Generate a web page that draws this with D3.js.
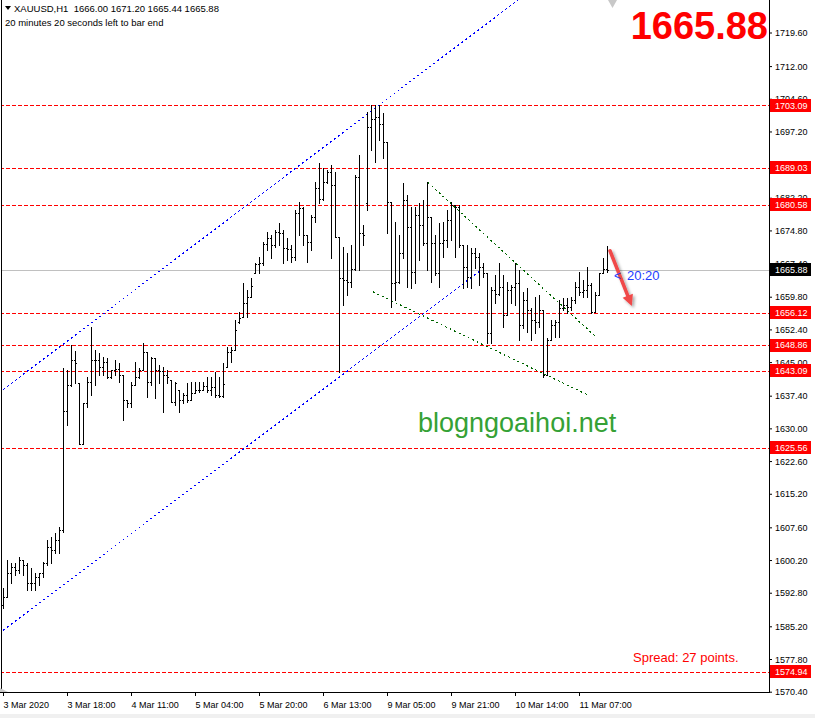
<!DOCTYPE html>
<html>
<head>
<meta charset="utf-8">
<script src="https://cdn.jsdelivr.net/npm/d3@7"></script>
<style>
  html, body { margin: 0; padding: 0; background: #ffffff; }
  svg { display: block; }
  text { font-family: "Liberation Sans", Arial, sans-serif; }
</style>
</head>
<body>
<script>
// ---------------- DATA ----------------
const symbolHeader = "XAUUSD,H1  1666.00 1671.20 1665.44 1665.88";
const timerText = "20 minutes 20 seconds left to bar end";
const bigPrice = "1665.88";
const spreadText = "Spread: 27 points.";
const watermark = "blogngoaihoi.net";
const countdown = "20:20";

const opens = [1590.0,1591.8,1597.3,1598.6,1597.9,1600.2,1599.1,1595.0,1595.0,1596.4,1597.3,1599.5,1603.1,1602.4,1604.7,1607.0,
1633.9,1639.8,1645.5,1640.3,1626.5,1635.7,1640.5,1645.5,1645.5,1643.9,1645.0,1641.6,1643.2,1643.4,1642.1,1636.4,
1635.7,1639.8,1641.6,1643.2,1647.3,1640.5,1645.9,1643.2,1643.0,1642.1,1640.9,1636.0,1638.7,1636.4,1637.6,1636.4,
1638.0,1638.7,1638.7,1639.6,1638.7,1639.3,1637.6,1637.3,1644.0,1647.3,1647.7,1654.0,1655.2,1658.4,1659.7,1665.2,
1667.2,1667.4,1671.7,1673.1,1671.5,1674.5,1674.2,1670.8,1670.6,1668.8,1678.8,1679.9,1673.8,1672.2,1677.8,1684.4,
1681.9,1685.8,1688.0,1685.0,1673.3,1664.0,1663.6,1663.1,1666.1,1686.9,1674.2,1681.0,1698.2,1700.0,1700.5,1699.0,
1694.8,1681.2,1662.9,1663.1,1669.7,1681.7,1675.6,1665.4,1678.3,1676.0,1671.9,1677.8,1671.9,1665.2,1671.9,1672.6,
1677.2,1680.6,1680.1,1671.5,1666.5,1664.3,1669.7,1668.8,1666.5,1665.2,1651.6,1661.3,1660.5,1662.0,1655.7,1661.3,
1662.0,1662.9,1653.4,1659.0,1656.8,1654.5,1654.1,1656.8,1642.1,1650.0,1653.4,1654.1,1657.2,1658.0,1657.5,1659.0,
1662.0,1660.9,1661.3,1662.5,1656.3,1660.2,1665.2,1666.00];

const highs = [1593.9,1600.2,1599.5,1599.5,1600.9,1600.2,1599.5,1598.4,1597.3,1597.3,1599.8,1604.7,1605.4,1606.3,1607.7,1643.7,
1643.2,1648.9,1647.5,1640.3,1635.7,1641.6,1652.9,1647.7,1647.1,1646.2,1645.9,1643.2,1645.5,1644.8,1642.1,1636.4,
1640.5,1645.0,1643.7,1649.3,1647.3,1646.2,1645.9,1644.3,1643.9,1643.2,1640.9,1640.5,1638.7,1638.0,1640.3,1640.5,
1640.5,1640.5,1640.5,1641.6,1641.6,1642.8,1641.6,1644.8,1648.4,1648.4,1654.5,1656.3,1662.9,1661.3,1664.0,1667.4,
1668.8,1672.2,1674.5,1673.8,1674.9,1676.5,1674.9,1673.1,1671.5,1679.4,1681.2,1680.1,1673.8,1678.3,1685.8,1690.1,
1688.9,1688.5,1689.6,1688.0,1673.3,1671.1,1669.7,1671.5,1687.4,1691.9,1676.0,1701.6,1703.2,1703.2,1703.2,1701.4,
1694.8,1681.2,1676.7,1673.8,1685.5,1682.8,1680.1,1680.1,1681.0,1681.7,1685.8,1677.8,1673.8,1676.5,1676.7,1679.4,
1681.2,1680.6,1680.6,1671.5,1671.5,1670.8,1670.8,1669.7,1667.4,1665.2,1662.0,1664.7,1667.4,1664.7,1663.1,1662.4,
1667.4,1665.8,1660.9,1661.8,1657.2,1659.7,1660.2,1656.8,1650.5,1654.5,1654.5,1659.0,1659.5,1659.5,1659.7,1663.1,
1665.4,1663.6,1666.5,1662.9,1660.9,1665.2,1668.6,1671.20];

const lows = [1589.3,1591.8,1595.0,1596.8,1597.3,1596.8,1593.4,1593.4,1593.4,1594.6,1596.4,1599.1,1599.5,1601.8,1601.8,1606.5,
1630.8,1639.5,1640.3,1626.5,1626.5,1634.8,1637.6,1639.8,1642.1,1642.1,1641.4,1641.4,1642.1,1640.5,1631.9,1634.8,
1634.8,1639.8,1641.4,1643.2,1637.1,1639.8,1636.9,1640.3,1633.7,1640.3,1636.0,1635.3,1633.7,1635.7,1636.0,1636.4,
1638.0,1638.2,1638.7,1638.2,1637.6,1637.1,1637.1,1637.1,1643.9,1645.0,1647.7,1653.9,1655.2,1655.2,1659.7,1665.2,
1665.2,1667.0,1670.4,1668.6,1671.1,1671.5,1667.4,1668.1,1667.6,1668.1,1673.8,1671.5,1667.6,1670.4,1676.7,1681.0,
1681.7,1685.5,1668.6,1673.3,1642.8,1658.0,1660.2,1662.0,1665.8,1665.8,1671.5,1679.4,1693.0,1690.3,1695.3,1691.2,
1674.2,1657.5,1659.0,1662.9,1668.6,1662.0,1661.8,1662.9,1668.1,1671.5,1665.8,1663.1,1664.7,1662.0,1668.8,1671.1,
1672.6,1668.8,1671.1,1661.8,1662.0,1661.8,1666.3,1662.4,1664.3,1649.3,1649.3,1658.4,1660.2,1652.9,1655.7,1658.4,
1658.0,1650.0,1652.7,1651.8,1650.0,1651.6,1652.9,1641.6,1642.1,1650.0,1650.7,1650.7,1656.8,1656.1,1656.8,1658.4,
1660.2,1659.7,1659.7,1656.1,1656.3,1660.2,1665.2,1665.44];

const closes = [1591.8,1597.3,1598.6,1597.9,1600.2,1599.1,1595.0,1595.0,1596.4,1597.3,1599.5,1603.1,1602.4,1604.7,1607.0,1633.9,
1639.8,1645.5,1644.8,1626.5,1635.7,1640.5,1645.5,1645.5,1643.9,1645.0,1641.6,1643.2,1643.4,1642.1,1636.4,1635.7,
1639.8,1641.6,1643.2,1647.3,1640.5,1645.9,1643.2,1643.0,1642.1,1641.6,1636.0,1640.3,1636.4,1637.6,1636.4,1638.0,
1638.7,1638.7,1639.6,1638.7,1639.3,1637.6,1637.3,1640.0,1647.3,1647.7,1652.3,1655.0,1658.4,1659.7,1662.2,1667.2,
1667.4,1671.7,1673.1,1671.5,1674.5,1674.2,1670.8,1670.6,1668.8,1678.8,1679.9,1673.8,1672.2,1677.8,1684.4,1681.9,
1685.8,1688.0,1685.0,1673.3,1664.0,1663.6,1663.1,1666.1,1686.9,1674.2,1673.8,1698.2,1700.0,1700.5,1699.0,1694.8,
1681.2,1662.9,1663.1,1669.7,1681.7,1675.6,1665.4,1678.3,1676.0,1671.9,1677.8,1671.9,1665.2,1671.9,1672.6,1677.2,
1680.6,1680.1,1671.5,1666.5,1664.3,1669.7,1668.8,1666.5,1665.2,1651.6,1661.3,1660.5,1662.0,1655.7,1661.3,1662.0,
1662.9,1653.4,1659.0,1656.8,1654.5,1654.1,1656.8,1642.1,1650.0,1653.4,1654.1,1657.2,1658.0,1657.5,1659.0,1662.0,
1660.9,1661.3,1662.5,1656.3,1660.2,1665.2,1666.0,1665.88];

const priceTicks = [1719.60,1712.00,1704.60,1697.20,1689.80,1682.20,1674.80,1667.40,1659.80,1652.40,1645.00,
  1637.40,1630.00,1622.60,1615.20,1607.60,1600.20,1592.80,1585.20,1577.80,1570.40];
const timeTickIndex = [0,16,32,48,64,80,96,112,128,144];
const timeTickLabels = ["3 Mar 2020","3 Mar 18:00","4 Mar 11:00","5 Mar 04:00","5 Mar 20:00",
  "6 Mar 13:00","9 Mar 05:00","9 Mar 21:00","10 Mar 14:00","11 Mar 07:00"];
const levelPrices = [1703.09,1689.03,1680.58,1656.12,1648.86,1643.09,1625.56,1574.94];
const currentPrice = 1665.88;

// trend lines: [barIndex, price] pairs
const blueUpper = [[-1, 1638.07], [130, 1727.8]];
const blueLower = [[-1, 1583.62], [119, 1665.44]];
const greenUpper = [[106.2, 1685.7], [148.6, 1650.4]];
const greenLower = [[92.5, 1660.9], [146.25, 1637.55]];
const arrowPts = [[151.75, 1670.2], [157.2, 1657.7]];

// ---------------- LAYOUT ----------------
const W = 815, H = 718;
const plotRight = 769, plotBottom = 692;

const x = d3.scaleLinear().domain([0, 151]).range([3, 607]);
const y = d3.scaleLinear().domain([1570.4, 1719.6]).range([691.7, 32.5]);

const svg = d3.select("body").append("svg").attr("width", W).attr("height", H);
const defs = svg.append("defs");
defs.append("clipPath").attr("id", "plotClip").append("rect")
  .attr("x", 2).attr("y", 0).attr("width", plotRight - 2).attr("height", plotBottom);
const f = defs.append("filter").attr("id", "shadow").attr("x", "-50%").attr("y", "-50%").attr("width", "200%").attr("height", "200%");
f.append("feDropShadow").attr("dx", 2).attr("dy", 2).attr("stdDeviation", 1.6)
  .attr("flood-color", "#000").attr("flood-opacity", 0.35);

svg.append("rect").attr("width", W).attr("height", H).attr("fill", "#ffffff");
svg.append("rect").attr("x", 0).attr("y", 714).attr("width", W).attr("height", 4).attr("fill", "#f0f0f0");

const plot = svg.append("g").attr("clip-path", "url(#plotClip)");

// level lines
plot.selectAll("line.level").data(levelPrices).join("line")
  .attr("class", "level")
  .attr("x1", 0).attr("x2", plotRight)
  .attr("y1", d => Math.round(y(d)) + 0.5).attr("y2", d => Math.round(y(d)) + 0.5)
  .attr("stroke", "#ff0000").attr("stroke-width", 1).attr("stroke-dasharray", "4,2")
  .attr("shape-rendering", "crispEdges");

// current price line
plot.append("line")
  .attr("x1", 0).attr("x2", plotRight)
  .attr("y1", Math.round(y(currentPrice)) + 0.5).attr("y2", Math.round(y(currentPrice)) + 0.5)
  .attr("stroke", "#c0c0c0").attr("stroke-width", 1).attr("shape-rendering", "crispEdges");

// trend lines
const trend = (pts, color) => plot.append("line")
  .attr("x1", x(pts[0][0])).attr("y1", y(pts[0][1]))
  .attr("x2", x(pts[1][0])).attr("y2", y(pts[1][1]))
  .attr("stroke", color).attr("stroke-width", 1.1).attr("stroke-dasharray", "2,3")
  .attr("shape-rendering", "crispEdges");
trend(blueUpper, "#0000ff");
trend(blueLower, "#0000ff");
trend(greenUpper, "#006400");
trend(greenLower, "#006400");

// OHLC bars
const bars = plot.append("g").attr("fill", "#000000").attr("shape-rendering", "crispEdges");
closes.forEach((c, i) => {
  const col = Math.round(x(i));
  const yh = Math.round(y(highs[i])), yl = Math.round(y(lows[i]));
  bars.append("rect").attr("x", col).attr("y", yh).attr("width", 1).attr("height", Math.max(1, yl - yh + 1));
  bars.append("rect").attr("x", col - 1).attr("y", Math.round(y(opens[i]))).attr("width", 1).attr("height", 1);
  bars.append("rect").attr("x", col + 1).attr("y", Math.round(y(c))).attr("width", 1).attr("height", 1);
});

// red arrow annotation
(function () {
  const p1 = [x(arrowPts[0][0]), y(arrowPts[0][1])];
  const p2 = [x(arrowPts[1][0]), y(arrowPts[1][1])];
  const dx = p2[0] - p1[0], dy = p2[1] - p1[1];
  const len = Math.hypot(dx, dy), ux = dx / len, uy = dy / len;
  const hl = 11, hw = 5.5;
  const bx = p2[0] - ux * hl, by = p2[1] - uy * hl;
  const g = svg.append("g").attr("filter", "url(#shadow)");
  g.append("line").attr("x1", p1[0]).attr("y1", p1[1]).attr("x2", bx + ux).attr("y2", by + uy)
    .attr("stroke", "#f04848").attr("stroke-width", 3.5).attr("stroke-linecap", "round");
  g.append("path").attr("d", `M${p2[0]},${p2[1]} L${bx - uy * hw},${by + ux * hw} L${bx + uy * hw},${by - ux * hw} Z`)
    .attr("fill", "#f04848");
})();

// frame
svg.append("line").attr("x1", 1.5).attr("x2", 1.5).attr("y1", 0).attr("y2", plotBottom + 0.5).attr("stroke", "#000");
svg.append("line").attr("x1", 0).attr("x2", plotRight + 1).attr("y1", plotBottom + 0.5).attr("y2", plotBottom + 0.5).attr("stroke", "#000");
svg.append("line").attr("x1", plotRight + 0.5).attr("x2", plotRight + 0.5).attr("y1", 0).attr("y2", plotBottom + 1).attr("stroke", "#000");

// small gray markers
svg.append("path").attr("d", "M0,688 L8,692 L0,692 Z").attr("fill", "#c8c8c8");
svg.append("path").attr("d", "M608,0 L617,0 L612.5,8 Z").attr("fill", "#c8c8c8");

// right price axis
const yAxis = d3.axisRight(y).tickValues(priceTicks).tickFormat(d3.format(".2f")).tickSize(3).tickSizeOuter(0).tickPadding(3);
const ya = svg.append("g").attr("transform", `translate(${plotRight},0)`).call(yAxis);
ya.select(".domain").remove();
ya.selectAll("text").attr("font-size", 9).attr("fill", "#000").attr("font-family", "Liberation Sans, Arial, sans-serif").attr("dy", "0.34em");

// bottom time axis
const xAxis = d3.axisBottom(x).tickValues(timeTickIndex).tickFormat((d, i) => timeTickLabels[i]).tickSize(4).tickSizeOuter(0);
const xa = svg.append("g").attr("transform", `translate(0,${plotBottom})`).call(xAxis);
xa.select(".domain").remove();
xa.selectAll("text").attr("font-size", 9).attr("fill", "#000").attr("text-anchor", "start")
  .attr("x", 0).attr("y", 16).attr("dy", 0).attr("font-family", "Liberation Sans, Arial, sans-serif");

// price label boxes
const boxG = svg.append("g");
levelPrices.forEach(p => {
  const yc = y(p);
  boxG.append("rect").attr("x", plotRight + 1).attr("y", Math.round(yc - 6.5)).attr("width", 41).attr("height", 13).attr("fill", "#ff0000");
  boxG.append("text").attr("x", plotRight + 6).attr("y", yc + 3.3).attr("font-size", 9).attr("fill", "#ffffff").text(p.toFixed(2));
});
{
  const yc = y(currentPrice);
  boxG.append("rect").attr("x", plotRight + 1).attr("y", Math.round(yc - 6.5)).attr("width", 41).attr("height", 13).attr("fill", "#000000");
  boxG.append("text").attr("x", plotRight + 6).attr("y", yc + 3.3).attr("font-size", 9).attr("fill", "#ffffff").text(currentPrice.toFixed(2));
}

// header
svg.append("path").attr("d", "M5,6 L11,6 L8,10 Z").attr("fill", "#000");
svg.append("text").attr("x", 14).attr("y", 12).attr("font-size", 9.5).attr("fill", "#000").attr("xml:space", "preserve").style("white-space", "pre").text(symbolHeader);
svg.append("text").attr("x", 5).attr("y", 26).attr("font-size", 9.5).attr("fill", "#000").text(timerText);

// big price
svg.append("text").attr("x", 768).attr("y", 39).attr("text-anchor", "end")
  .attr("font-size", 38).attr("font-weight", "bold").attr("fill", "#ff0000").text(bigPrice);

// countdown
svg.append("text").attr("x", 614).attr("y", 280).attr("font-size", 12).attr("fill", "#1e3cff").text("<");
svg.append("text").attr("x", 627).attr("y", 280).attr("font-size", 13).attr("fill", "#1e3cff").text(countdown);

// watermark
svg.append("text").attr("x", 418).attr("y", 432).attr("font-size", 27).attr("fill", "#35a135").text(watermark);

// spread
svg.append("text").attr("x", 633).attr("y", 662).attr("font-size", 13).attr("fill", "#ff0000").text(spreadText);
</script>
</body>
</html>
